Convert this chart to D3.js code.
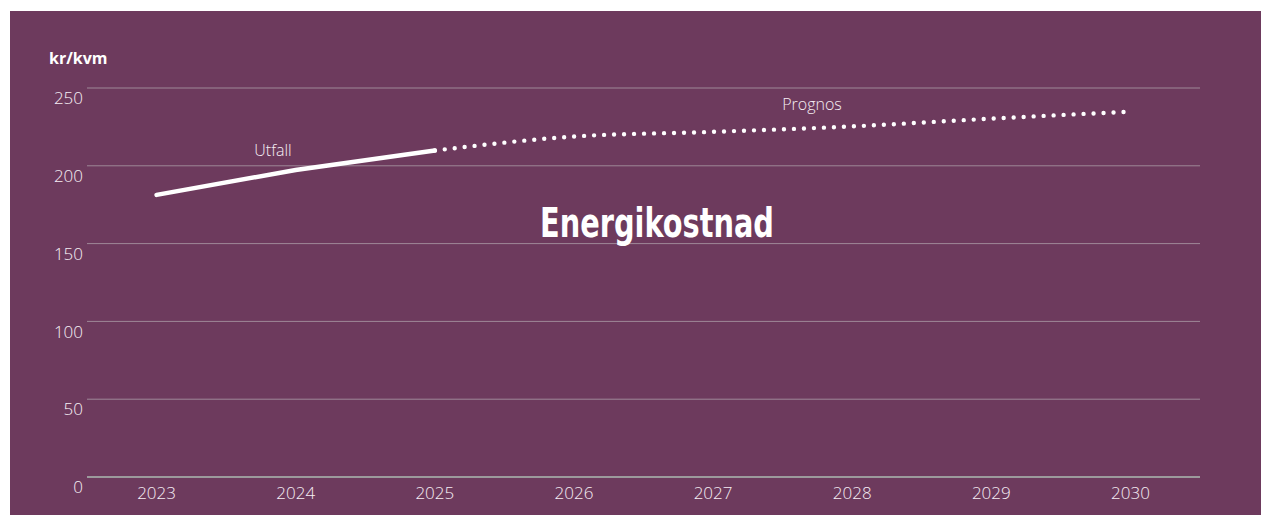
<!DOCTYPE html>
<html><head><meta charset="utf-8">
<script src="https://cdn.jsdelivr.net/npm/d3@7"></script>
<style>
html,body{margin:0;padding:0;background:#fff;}
svg{display:block;}
</style></head>
<body>
<script>
const years = ["2023","2024","2025","2026","2027","2028","2029","2030"];
const utfall = [181, 197, 209.5];          // 2023–2025
const prognos = [209.5, 218.5, 221.5, 225, 230, 234.5]; // 2025–2030
const yTicks = [0, 50, 100, 150, 200, 250];
const unitLabel = "kr/kvm";
const title = "Energikostnad";

const W = 1261, H = 515;
const svg = d3.select("body").append("svg").attr("width", W).attr("height", H);
svg.append("rect").attr("x", 10).attr("y", 11).attr("width", W - 10).attr("height", H - 11).attr("fill", "#6d3a5d");

const x = d3.scaleBand().domain(years).range([87, 1200]);
const y = d3.scaleLinear().domain([0, 250]).range([476.5, 87.5]);
const cx = d => x(d) + x.bandwidth() / 2;

const labelFont = "'Open Sans', 'Noto Sans', sans-serif";
const txt = "#f6eef4";

// gridlines
const yAxis = d3.axisLeft(y).tickValues(yTicks).tickSize(-(1200 - 87)).tickPadding(4);
const gy = svg.append("g").attr("transform", "translate(87,0)").call(yAxis);
gy.select(".domain").remove();
gy.selectAll(".tick line").attr("stroke", d => d === 0 ? "#9c9a9c" : "#9f8898").attr("stroke-width", d => d === 0 ? 2 : 1);
gy.selectAll(".tick text").attr("fill", txt).attr("font-family", labelFont).attr("font-weight", 300)
  .attr("font-size", 17).attr("x", -4).attr("dy", "0.95em").attr("text-anchor", "end");

const xAxis = d3.axisBottom(x).tickSize(0).tickPadding(10);
const gx = svg.append("g").attr("transform", "translate(0,477)").call(xAxis);
gx.select(".domain").remove();
gx.selectAll(".tick text").attr("fill", txt).attr("font-family", labelFont).attr("font-weight", 300).attr("font-size", 17);

// lines
const line = d3.line().x(d => cx(d.year)).y(d => y(d.value)).curve(d3.curveMonotoneX);
const utfallData = utfall.map((v, i) => ({year: years[i], value: v}));
const prognosData = prognos.map((v, i) => ({year: years[i + 2], value: v}));

svg.append("path").datum(prognosData).attr("d", line).attr("fill", "none")
  .attr("stroke", "#fff").attr("stroke-width", 4.4).attr("stroke-linecap", "round")
  .attr("stroke-dasharray", "0,10").attr("stroke-dashoffset", -10);
svg.append("path").datum(utfallData).attr("d", d3.line().x(d => cx(d.year)).y(d => y(d.value))).attr("fill", "none")
  .attr("stroke", "#fff").attr("stroke-width", 4.5).attr("stroke-linecap", "round");

// labels
svg.append("text").attr("x", 49).attr("y", 64).text(unitLabel)
  .attr("fill", "#fff").attr("font-family", "'Open Sans', sans-serif").attr("font-weight", 700).attr("font-size", 16);
svg.append("text").attr("x", 273).attr("y", 156).attr("text-anchor", "middle").text("Utfall")
  .attr("fill", txt).attr("font-family", labelFont).attr("font-weight", 300).attr("font-size", 16);
svg.append("text").attr("x", 812).attr("y", 110).attr("text-anchor", "middle").text("Prognos")
  .attr("fill", txt).attr("font-family", labelFont).attr("font-weight", 300).attr("font-size", 16);
svg.append("text").attr("transform", "translate(657,237) scale(0.8,1)").attr("text-anchor", "middle").text(title)
  .attr("fill", "#fff").attr("font-family", "'DejaVu Sans Condensed', 'DejaVu Sans', sans-serif")
  .attr("font-weight", 700).attr("font-size", 40);
</script>
</body></html>
